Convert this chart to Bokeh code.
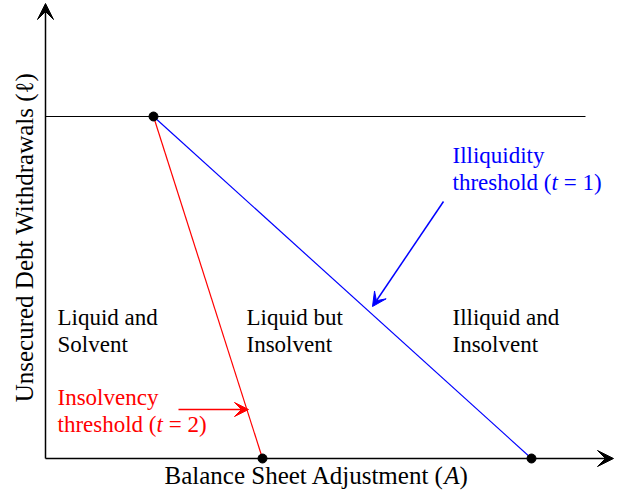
import math
from bokeh.plotting import figure
from bokeh.models import Range1d, Arrow, VeeHead
from bokeh.core.properties import value
from bokeh.embed import file_html
from bokeh.resources import INLINE

# ---- data (diagram units, origin at axes origin) ----
kink = (108, 342)            # top point where thresholds meet the horizontal line
insolvency_end = (217, 0)    # red threshold hits the A axis
illiquidity_end = (486, 0)   # blue threshold hits the A axis
hline_x = [0, 540]
hline_y = [342, 342]
x_axis_end = 568
y_axis_end = 455

region_x = [12, 12, 201, 201, 407, 407]
region_y = [141, 114, 141, 114, 141, 114]
region_text = ["Liquid and", "Solvent", "Liquid but", "Insolvent", "Illiquid and", "Insolvent"]

NB = "\u00a0"
red_label_pos = [(12, 61), (12, 34)]
red_label_segments = [[("Insolvency", False)],
                      [("threshold (", False), ("t", True), (NB + "=" + NB + "2)", False)]]
red_arrow = dict(x_start=133, y_start=49, x_end=203, y_end=49)

blue_label_pos = [(407, 303), (407, 276)]
blue_label_segments = [[("Illiquidity", False)],
                       [("threshold (", False), ("t", True), (NB + "=" + NB + "1)", False)]]
blue_arrow = dict(x_start=398, y_start=257, x_end=327, y_end=152)

xlabel_pos = (119, -17)
xlabel_segments = [("Balance Sheet Adjustment (", False), ("A", True), (")", False)]
ylabel = "Unsecured Debt Withdrawals (\u2113)"
ylabel_pos = (-21, 221)

FONT = value("Liberation Serif")
FS = 23
FS_AX = 25

# Times/Liberation Serif advance widths (per 1000 em) for laying out mixed-style labels
ROMAN = {" ": 250, NB: 250, "(": 333, ")": 333, "=": 564, "1": 500, "2": 500, "t": 278, "h": 500,
         "r": 333, "e": 444, "s": 389, "o": 500, "l": 278, "d": 500, "B": 667, "a": 444,
         "n": 500, "c": 444, "S": 556, "A": 722, "j": 278, "u": 500, "m": 778, "I": 333,
         "i": 278, "q": 500, "y": 500, "v": 500}
ITALIC = {"t": 278, "A": 611}


def seg_width(s, italic, size):
    table = ITALIC if italic else ROMAN
    return sum(table.get(ch, 500) for ch in s) / 1000.0 * size


p = figure(width=621, height=497, output_backend="svg", toolbar_location=None,
           x_range=Range1d(-45, 576), y_range=Range1d(-39, 458),
           x_axis_location=None, y_axis_location=None, min_border=0)
p.outline_line_color = None
p.grid.visible = False


def rich_text(x, y, segments, color, size):
    off = 0.0
    for s, italic in segments:
        p.text([x], [y], text=[s], x_offset=off, text_font=FONT,
               text_font_size=value(f"{size}px"),
               text_font_style="italic" if italic else "normal",
               text_color=color, text_baseline="alphabetic", text_align="left")
        off += seg_width(s, italic, size)


# axes with arrow heads
p.add_layout(Arrow(end=VeeHead(size=16, fill_color="black", line_color="black", line_width=1),
                   x_start=0, y_start=0, x_end=x_axis_end, y_end=0,
                   line_color="black", line_width=1.5))
p.add_layout(Arrow(end=VeeHead(size=16, fill_color="black", line_color="black", line_width=1),
                   x_start=0, y_start=0, x_end=0, y_end=y_axis_end,
                   line_color="black", line_width=1.5))

# horizontal line
p.line(hline_x, hline_y, line_color="black", line_width=1)

# thresholds
p.line([kink[0], insolvency_end[0]], [kink[1], insolvency_end[1]], line_color="#ff0000", line_width=1.2)
p.line([kink[0], illiquidity_end[0]], [kink[1], illiquidity_end[1]], line_color="#0000ff", line_width=1.2)

# dots
p.scatter([kink[0], insolvency_end[0], illiquidity_end[0]],
          [kink[1], insolvency_end[1], illiquidity_end[1]],
          size=9, color="black")

# region labels
p.text(region_x, region_y, text=region_text, text_font=FONT, text_font_size=value(f"{FS}px"),
       text_color="black", text_baseline="alphabetic", text_align="left")

# red annotation
for (x, y), segs in zip(red_label_pos, red_label_segments):
    rich_text(x, y, segs, "#ff0000", FS)
p.add_layout(Arrow(end=VeeHead(size=14, fill_color="#ff0000", line_color="#ff0000", line_width=1),
                   line_color="#ff0000", line_width=1.5, **red_arrow))

# blue annotation
for (x, y), segs in zip(blue_label_pos, blue_label_segments):
    rich_text(x, y, segs, "#0000ff", FS)
p.add_layout(Arrow(end=VeeHead(size=14, fill_color="#0000ff", line_color="#0000ff", line_width=1),
                   line_color="#0000ff", line_width=1.5, **blue_arrow))

# axis labels
rich_text(xlabel_pos[0], xlabel_pos[1], xlabel_segments, "black", FS_AX)
p.text([ylabel_pos[0]], [ylabel_pos[1]], text=[ylabel], text_font=FONT,
       text_font_size=value(f"{FS_AX}px"), angle=math.pi / 2,
       text_color="black", text_baseline="alphabetic", text_align="center")

open("out.html", "w").write(file_html(p, INLINE))
